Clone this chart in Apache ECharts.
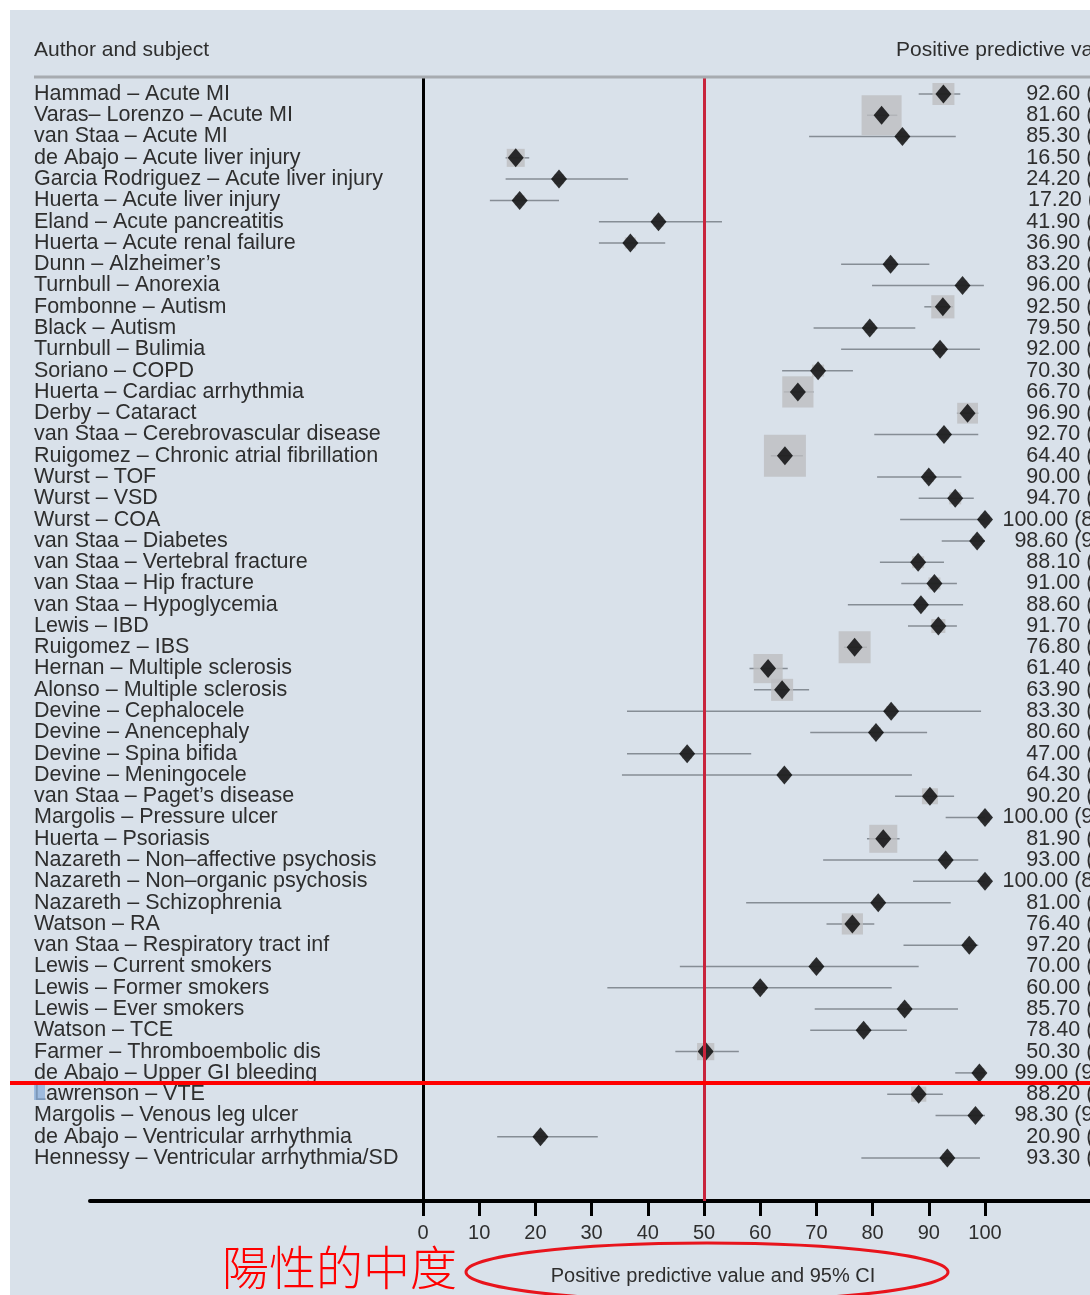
<!DOCTYPE html>
<html>
<head>
<meta charset="utf-8">
<script src="https://cdn.jsdelivr.net/npm/echarts@6/dist/echarts.min.js"></script>
<style>
  html, body { margin: 0; padding: 0; background: #fff; }
  #panel { position: absolute; left: 10px; top: 10px; width: 1080px; height: 1285px; background: #d9e1ea; }
  #chart { position: absolute; left: 0; top: 0; width: 1090px; height: 1295px; }
</style>
</head>
<body>
<div id="panel"></div>
<div id="chart"></div>
<script>
// studies (author - subject), top to bottom
const rowLabels = [
  'Hammad – Acute MI', 'Varas– Lorenzo – Acute MI', 'van Staa – Acute MI',
  'de Abajo – Acute liver injury', 'Garcia Rodriguez – Acute liver injury', 'Huerta – Acute liver injury',
  'Eland – Acute pancreatitis', 'Huerta – Acute renal failure', 'Dunn – Alzheimer’s',
  'Turnbull – Anorexia', 'Fombonne – Autism', 'Black – Autism', 'Turnbull – Bulimia',
  'Soriano – COPD', 'Huerta – Cardiac arrhythmia', 'Derby – Cataract',
  'van Staa – Cerebrovascular disease', 'Ruigomez – Chronic atrial fibrillation',
  'Wurst – TOF', 'Wurst – VSD', 'Wurst – COA', 'van Staa – Diabetes',
  'van Staa – Vertebral fracture', 'van Staa – Hip fracture', 'van Staa – Hypoglycemia',
  'Lewis – IBD', 'Ruigomez – IBS', 'Hernan – Multiple sclerosis', 'Alonso – Multiple sclerosis',
  'Devine – Cephalocele', 'Devine – Anencephaly', 'Devine – Spina bifida', 'Devine – Meningocele',
  'van Staa – Paget’s disease', 'Margolis – Pressure ulcer', 'Huerta – Psoriasis',
  'Nazareth – Non–affective psychosis', 'Nazareth – Non–organic psychosis', 'Nazareth – Schizophrenia',
  'Watson – RA', 'van Staa – Respiratory tract inf', 'Lewis – Current smokers',
  'Lewis – Former smokers', 'Lewis – Ever smokers', 'Watson – TCE', 'Farmer – Thromboembolic dis',
  'de Abajo – Upper GI bleeding', 'Lawrenson – VTE', 'Margolis – Venous leg ulcer',
  'de Abajo – Ventricular arrhythmia', 'Hennessy – Ventricular arrhythmia/SD'
];

// positive predictive value (%)
const ppv = [
  92.6, 81.6, 85.3, 16.5, 24.2, 17.2, 41.9, 36.9, 83.2, 96.0,
  92.5, 79.5, 92.0, 70.3, 66.7, 96.9, 92.7, 64.4, 90.0, 94.7,
  100.0, 98.6, 88.1, 91.0, 88.6, 91.7, 76.8, 61.4, 63.9, 83.3,
  80.6, 47.0, 64.3, 90.2, 100.0, 81.9, 93.0, 100.0, 81.0, 76.4,
  97.2, 70.0, 60.0, 85.7, 78.4, 50.3, 99.0, 88.2, 98.3, 20.9, 93.3
];

// 95% CI
const ciLow = [
  88.2, 79.0, 68.7, 14.7, 14.7, 11.9, 31.3, 31.3, 74.4, 79.9,
  89.2, 69.5, 74.4, 63.9, 64.2, 95.0, 80.3, 61.9, 80.8, 88.2,
  84.9, 92.3, 81.3, 85.1, 75.6, 86.3, 74.9, 58.1, 58.9, 36.3,
  68.9, 36.3, 35.4, 84.0, 93.0, 79.0, 71.2, 87.2, 57.5, 71.8,
  85.5, 45.7, 32.8, 69.7, 68.9, 44.9, 94.7, 82.6, 91.2, 13.2, 78.0
];
const ciHigh = [
  95.6, 84.4, 94.8, 18.9, 36.5, 24.2, 53.2, 43.1, 90.1, 99.8,
  94.3, 87.6, 99.1, 76.5, 69.5, 98.8, 98.8, 67.6, 95.8, 98.0,
  100.0, 100.0, 92.7, 95.0, 96.1, 95.0, 79.0, 64.9, 68.7, 99.3,
  89.7, 58.4, 87.0, 94.5, 100.0, 84.8, 98.8, 100.0, 93.9, 80.3,
  98.8, 88.2, 83.4, 95.2, 86.1, 56.2, 100.0, 92.5, 100.0, 31.1, 99.1
];

// relative study weight (drives the grey box size)
const boxWeight = [
  5.5, 10.0, 2.5, 4.5, 2.5, 2.5, 2.5, 2.8, 2.5, 2.5,
  5.8, 2.5, 2.5, 3.0, 7.8, 5.2, 2.5, 10.5, 2.5, 3.0,
  2.5, 2.5, 3.0, 3.0, 2.5, 3.5, 8.0, 7.3, 5.5, 2.5,
  2.5, 2.5, 2.5, 4.0, 2.5, 7.0, 2.5, 2.5, 2.5, 5.3,
  2.5, 2.5, 2.5, 2.5, 2.5, 4.3, 2.5, 3.8, 2.5, 2.5, 2.5
];

const xMin = 0, xMax = 100, xStep = 10, refValue = 50;

const FONT = "'Liberation Sans', Arial, sans-serif";
const TEXT = '#2e2e2e';

const rows = rowLabels.map((_, i) => i);
const fmt = v => v.toFixed(2);

const chart = echarts.init(document.getElementById('chart'));

chart.setOption({
  animation: false,
  backgroundColor: 'transparent',
  grid: [
    { left: 423, top: 78, width: 562, height: 1123, outerBoundsMode: 'none' },
    { left: 90, top: 78, right: 0, height: 1123, outerBoundsMode: 'none' }
  ],
  xAxis: [
    {
      gridIndex: 0, type: 'value', min: xMin, max: xMax, interval: xStep,
      axisLine: { show: true, onZero: false, lineStyle: { color: '#000', width: 4 } },
      axisTick: { show: true, length: 15, lineStyle: { color: '#000', width: 3 } },
      axisLabel: { margin: 22, fontSize: 20, color: TEXT, fontFamily: FONT },
      splitLine: { show: false },
      name: 'Positive predictive value and 95% CI',
      nameLocation: 'middle', nameGap: 65,
      nameTextStyle: { fontSize: 20, color: TEXT, fontFamily: FONT, padding: [0, 0, 0, 18] }
    },
    {
      gridIndex: 1, type: 'value', min: 0, max: 1,
      axisLine: { show: true, onZero: false, lineStyle: { color: '#000', width: 4 } },
      axisTick: { show: false }, axisLabel: { show: false }, splitLine: { show: false }
    }
  ],
  yAxis: [
    {
      gridIndex: 0, type: 'value', inverse: true, min: -0.752, max: 52.02,
      axisLine: { show: true, onZero: false, lineStyle: { color: '#000', width: 3 } },
      axisTick: { show: false }, axisLabel: { show: false }, splitLine: { show: false }
    },
    { gridIndex: 1, type: 'value', min: 0, max: 1, show: false }
  ],
  series: [
    {
      // confidence interval whiskers + reference line at 50
      type: 'custom',
      xAxisIndex: 0, yAxisIndex: 0,
      z: 2,
      encode: { x: [0, 1], y: 2 },
      data: rows.map(i => [ciLow[i], ciHigh[i], i]),
      renderItem: (params, api) => {
        const a = api.coord([api.value(0), api.value(2)]);
        const b = api.coord([api.value(1), api.value(2)]);
        return {
          type: 'line',
          shape: { x1: a[0], y1: a[1], x2: b[0], y2: b[1] },
          style: { stroke: '#868d95', lineWidth: 1.5 }
        };
      },
      markLine: {
        silent: true, symbol: 'none', label: { show: false },
        lineStyle: { color: '#c8243c', width: 3, type: 'solid' },
        data: [{ xAxis: refValue }]
      }
    },
    {
      // weight boxes
      type: 'scatter',
      xAxisIndex: 0, yAxisIndex: 0,
      z: 3,
      symbol: 'rect',
      symbolSize: v => v[2] * 4,
      itemStyle: { color: '#bdbec0' },
      data: rows.map(i => [ppv[i], i, boxWeight[i]])
    },
    {
      // point estimates
      type: 'scatter',
      xAxisIndex: 0, yAxisIndex: 0,
      z: 4,
      symbol: 'diamond',
      symbolSize: [16, 19],
      itemStyle: { color: '#000' },
      data: rows.map(i => [ppv[i], i])
    },
    {
      // row texts: study on the left, estimate (CI) on the right
      type: 'custom',
      xAxisIndex: 0, yAxisIndex: 0,
      z: 5,
      clip: false,
      encode: { x: 0, y: 1 },
      data: rows.map(i => [0, i]),
      renderItem: (params, api) => {
        const i = api.value(1);
        const y = api.coord([0, i])[1];
        return {
          type: 'group',
          children: [
            {
              type: 'text', x: 34, y: y,
              style: { text: rowLabels[i], fill: TEXT, font: '21.5px ' + FONT, textAlign: 'left', textVerticalAlign: 'middle' }
            },
            {
              type: 'text', x: 1220, y: y,
              style: {
                text: fmt(ppv[i]) + ' (' + fmt(ciLow[i]) + ', ' + fmt(ciHigh[i]) + ')',
                fill: TEXT, font: '21.5px ' + FONT, textAlign: 'right', textVerticalAlign: 'middle'
              }
            }
          ]
        };
      }
    }
  ],
  graphic: [
    { type: 'text', left: 34, top: 40, style: { text: 'Author and subject', fill: TEXT, font: '21px ' + FONT } },
    { type: 'text', left: 896, top: 40, style: { text: 'Positive predictive value (95% CI)', fill: TEXT, font: '21px ' + FONT } },
    { type: 'line', shape: { x1: 34, y1: 77, x2: 1090, y2: 77 }, style: { stroke: '#a7abb0', lineWidth: 3 }, z: 10 },
    // annotation overlay
    { type: 'rect', shape: { x: 34, y: 1085, width: 11, height: 15 }, style: { fill: '#8fb2dc', opacity: 0.8 }, z: 20 },
    { type: 'line', shape: { x1: 10, y1: 1083, x2: 1090, y2: 1083 }, style: { stroke: '#ff0000', lineWidth: 4 }, z: 30 },
    { type: 'ellipse', shape: { cx: 707, cy: 1272, rx: 241, ry: 29 }, style: { stroke: '#e8141c', lineWidth: 3, fill: 'none' }, z: 30 },
    {
      type: 'text', left: 222, top: 1244, z: 30,
      style: { text: '陽性的中度', fill: '#ff0000', font: '300 47px "Noto Sans CJK TC", "Noto Sans CJK JP", sans-serif' }
    }
  ]
});
</script>
</body>
</html>
